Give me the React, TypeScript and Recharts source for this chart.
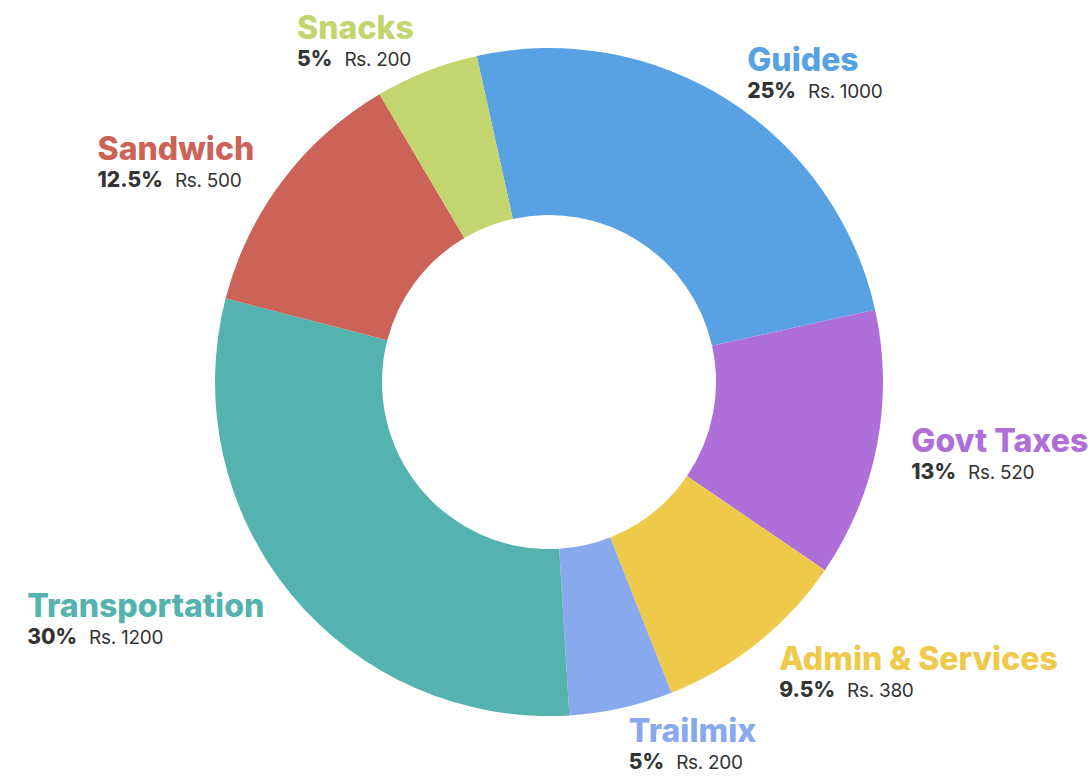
import * as React from "react";
import { PieChart, Pie, Cell } from "recharts";

const categories = [
  "Guides",
  "Govt Taxes",
  "Admin & Services",
  "Trailmix",
  "Transportation",
  "Sandwich",
  "Snacks",
];
const amounts = [1000, 520, 380, 200, 1200, 500, 200];
const colors = [
  "#58a2e4",
  "#ae6fd8",
  "#eec94a",
  "#88a9ee",
  "#54b3ae",
  "#cb6358",
  "#c3d56e",
];

const data = categories.map((name, i) => ({ name, value: amounts[i] }));

const RADIAN = Math.PI / 180;
const TITLE_SIZE = 32;
const TITLE_FONT = `800 ${TITLE_SIZE}px Inter`;
const FONT_FAMILY = "Inter, 'Open Sans', sans-serif";

let ctx: CanvasRenderingContext2D | null = null;
const measure = (text: string, font: string) => {
  if (!ctx) ctx = document.createElement("canvas").getContext("2d");
  if (!ctx) return text.length * TITLE_SIZE * 0.6;
  ctx.font = font;
  return ctx.measureText(text).width;
};

const renderLabel = (props: any) => {
  const { cx, cy, midAngle, outerRadius, percent, name, value, index } = props;
  const r = outerRadius + 35;
  const cos = Math.cos(-midAngle * RADIAN);
  const x = cx + r * cos;
  const y = cy + r * Math.sin(-midAngle * RADIAN);
  const w = measure(name, TITLE_FONT);
  const left = cos >= 0 ? x : x - w;
  const pct = Number((percent * 100).toFixed(1));
  return (
    <g key={`lbl-${index}`}>
      <text
        x={left}
        y={y}
        fill={colors[index]}
        fontFamily={FONT_FAMILY}
        fontWeight={800}
        fontSize={TITLE_SIZE}
      >
        {name}
      </text>
      <text x={left} y={y + 27} fill="#333" fontFamily={FONT_FAMILY}>
        <tspan fontWeight={800} fontSize={21}>
          {pct}%
        </tspan>
        <tspan dx={12} fontWeight={400} fontSize={19} letterSpacing={-0.3}>
          Rs. {value}
        </tspan>
      </text>
    </g>
  );
};

export default function App() {
  return (
    <div style={{ position: "absolute", left: 0, top: 0, background: "#fff" }}>
      <PieChart width={1090} height={780} style={{ overflow: "visible" }}>
        <Pie
          data={data}
          dataKey="value"
          nameKey="name"
          cx={544}
          cy={377}
          innerRadius={167}
          outerRadius={334}
          startAngle={102.5}
          endAngle={-257.5}
          stroke="none"
          label={renderLabel}
          labelLine={false}
          isAnimationActive={false}
        >
          {data.map((d, i) => (
            <Cell key={d.name} fill={colors[i]} />
          ))}
        </Pie>
      </PieChart>
    </div>
  );
}
